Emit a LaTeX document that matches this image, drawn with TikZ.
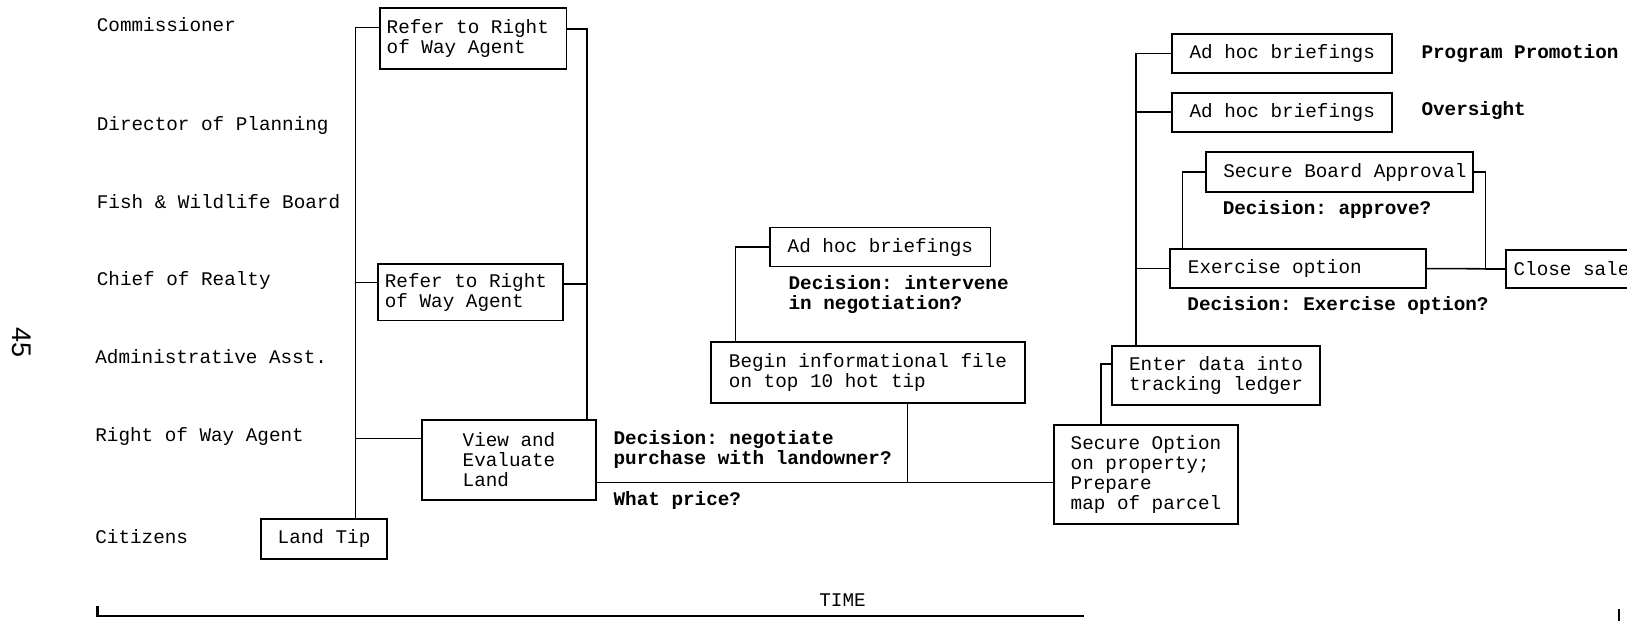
\documentclass[tikz,border=0pt]{standalone}
\usepackage{fontspec}
\newfontfamily\chartfont{Liberation Mono}[WordSpace={1,0,0}]
\newfontfamily\pagefont{Liberation Sans}
\usetikzlibrary{calc}
\newcommand{\chartsize}{\fontsize{9.3pt}{9.65pt}\selectfont}
\hfuzz=8pt
\frenchspacing

\begin{document}
\begin{tikzpicture}[
    x=0.5pt, y=-0.5pt,
    font=\chartfont\chartsize,
    box/.style={draw, line width=0.9pt, anchor=north west, align=left,
                inner ysep=0pt, execute at begin node={\spaceskip=0pt\xspaceskip=0pt}},
    role/.style={anchor=west, inner sep=0pt},
    note/.style={anchor=west, inner sep=0pt, align=left,
                 font=\chartfont\chartsize\bfseries},
    wire/.style={line width=0.75pt}
  ]
  \useasboundingbox (0,0) rectangle (1568,598);
  \clip (0,0) rectangle (1568,598);

  % who acts
  \foreach \n/\x/\y/\t in {com/93/24/Commissioner, dir/93/120.5/Director of Planning,
      fish/93/194.4/{Fish \& Wildlife Board}, chief/93/270/Chief of Realty,
      adm/91.5/344/Administrative Asst., agent/91.5/420.8/Right of Way Agent,
      cit/91.5/517/Citizens} {
    \node[role] (\n) at (\x,\y) {\t};
  }
  \node[font=\pagefont\fontsize{13pt}{15pt}\selectfont, rotate=-90] (pgno) at (21,330) {45};

  % first steps
  \node[box, minimum width=61pt, minimum height=19pt] (tip) at (250.4,499.5) {Land Tip};
  \node[box, text width=83.2pt, inner xsep=3.4pt, minimum height=29.4pt]
    (refA) at (365,6.4) {Refer to Right\\of Way Agent};
  \node[box, text width=82.5pt, inner xsep=3.5pt, minimum height=27.1pt]
    (refB) at (363,253.8) {Refer to Right\\of Way Agent};
  \node[box, minimum width=83.85pt, minimum height=38.5pt]
    (view) at (405.8,404) {View and\\Evaluate\\Land};

  \node[note] (nego) at (591,433.6) {Decision: negotiate\\purchase with landowner?};
  \node[note] (price) at (591,482) {What price?};

  % negotiation
  \node[box, minimum width=150.95pt, minimum height=29.35pt]
    (file) at (684.6,329) {Begin informational file\\on top 10 hot tip};
  \node[box, minimum width=106.15pt, minimum height=18.8pt]
    (brfA) at (741.4,218.4) {Ad hoc briefings};
  \node[note] (interv) at (759.6,284) {Decision: intervene\\in negotiation?};

  % option and sale
  \node[box, minimum width=88.5pt, minimum height=47.7pt]
    (option) at (1015,408.6) {Secure Option\\on property;\\Prepare\\map of parcel};
  \node[box, minimum width=100pt, minimum height=28.55pt]
    (ledger) at (1071,332.5) {Enter data into\\tracking ledger};
  \node[box, minimum width=106.2pt, minimum height=19pt]
    (brfB) at (1128.6,31.5) {Ad hoc briefings};
  \node[box, minimum width=106.2pt, minimum height=18.8pt]
    (brfC) at (1128.6,88.4) {Ad hoc briefings};
  \node[note] (promo) at (1369.6,51.4) {Program Promotion};
  \node[note] (overs) at (1369.6,107) {Oversight};
  \node[box, text width=112pt, inner xsep=8.5pt, minimum height=19pt]
    (board) at (1161,146) {\mbox{Secure Board Approval}};
  \node[note] (approve) at (1178,201.7) {Decision: approve?};
  \node[box, text width=105.8pt, inner xsep=8.7pt, minimum height=18.9pt]
    (exer) at (1126.6,239) {Exercise option};
  \node[note] (exq) at (1144,294) {Decision: Exercise option?};
  \node[box, text width=63pt, inner xsep=3.5pt, minimum height=18.25pt]
    (close) at (1450.8,240) {Close sale};

  % connectors
  \draw[wire] ($(refA.west)+(0,-10)$) -| ($(tip.north)+(30.1,0)$);
  \draw[wire] ($(refB.west)+(0,-9.4)$) -| ($(tip.north)+(30.1,0)$);
  \draw[wire] ($(view.west)+(0,-21)$) -| ($(tip.north)+(30.1,0)$);
  \draw[wire] ($(refA.east)+(0,-8.8)$) -| ($(view.north)+(75.35,0)$);
  \draw[wire] ($(refB.east)+(0,-7.9)$) -| ($(view.north)+(75.35,0)$);

  \draw[wire] ($(view.east)+(0,21.5)$) coordinate (mainL) -- (mainL -| option.west);
  \draw[wire] ($(file.south)+(38,0)$) coordinate (fileB) -- (fileB |- mainL);
  \draw[wire] ($(file.north)+(-127.5,0)$) |- (brfA.west);

  \draw[wire] ($(option.north)+(-43.5,0)$) |- ($(ledger.west)+(0,-11)$);
  \draw[wire] ($(ledger.north)+(-77,0)$) coordinate (rspine) |- (brfB.west);
  \draw[wire] (rspine) |- (brfC.west);
  \draw[wire] (rspine) |- (exer.west);
  \draw[wire] ($(exer.north)+(-111,0)$) |- (board.west);
  \draw[wire] (exer.east) -- (close.west);
  \draw[wire] (board.east) -- ++(11,0) |- (close.west);

  % time axis
  \node (time) at (812,578) {TIME};
  \coordinate (ax0) at (94,584);
  \coordinate (ax1) at (1045,593.7);
  \coordinate (ax2) at (1560,587);
  \draw[line width=1.1pt] (ax0) |- (ax1);
  \draw[line width=1pt] (ax2) -- ++(0,11);
\end{tikzpicture}
\end{document}
